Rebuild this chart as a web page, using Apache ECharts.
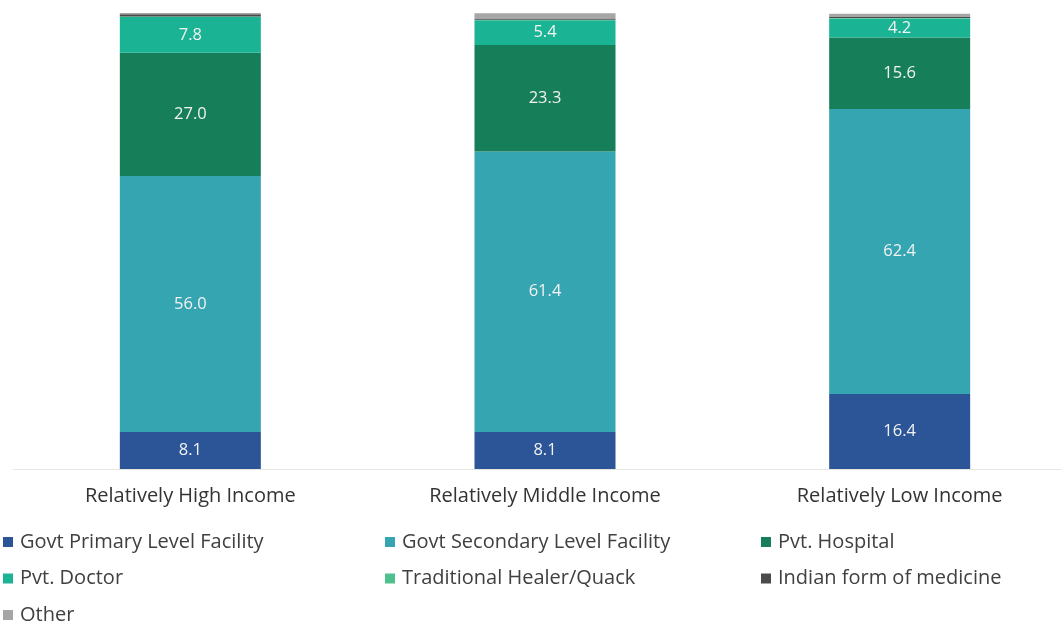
<!DOCTYPE html>
<html>
<head>
<meta charset="utf-8">
<title></title>
<script src="https://cdn.jsdelivr.net/npm/echarts@6/dist/echarts.min.js"></script>
<style>
  html, body { margin: 0; padding: 0; background: #fff; overflow: hidden; }
  #main { width: 1077px; height: 622px; }
</style>
</head>
<body>
<div id="main"></div>
<script type="text/javascript">
var categories = ['Relatively High Income', 'Relatively Middle Income', 'Relatively Low Income'];
var govtPrimary = [8.1, 8.1, 16.4];
var govtSecondary = [56.0, 61.4, 62.4];
var pvtHospital = [27.0, 23.3, 15.6];
var pvtDoctor = [7.8, 5.4, 4.2];
var traditional = [0.1, 0.1, 0.1];
var indianMed = [0.5, 0.3, 0.2];
var other = [0.3, 1.1, 0.7];

var names = ['Govt Primary Level Facility', 'Govt Secondary Level Facility', 'Pvt. Hospital',
  'Pvt. Doctor', 'Traditional Healer/Quack', 'Indian form of medicine', 'Other'];
var colors = ['#2b5597', '#35a5b2', '#167f5a', '#1ab394', '#4dc08e', '#4a4a4a', '#a6a6a6'];
var allData = [govtPrimary, govtSecondary, pvtHospital, pvtDoctor, traditional, indianMed, other];

var myChart = echarts.init(document.getElementById('main'));

var series = [];
for (var i = 0; i < names.length; i++) {
  series.push({
    name: names[i],
    type: 'bar',
    stack: 'total',
    barWidth: 141,
    data: allData[i],
    itemStyle: { color: colors[i] },
    label: {
      show: true,
      position: 'inside',
      color: '#f2f2f2',
      fontFamily: 'Open Sans',
      fontSize: 16.5,
      formatter: function (p) {
        return p.value >= 3 ? p.value.toFixed(1) : '';
      }
    }
  });
}

function legendCol(left, list) {
  return {
    orient: 'vertical',
    left: left,
    top: 531,
    height: 200,
    padding: 0,
    itemWidth: 10,
    itemHeight: 10,
    itemGap: 14.5,
    icon: 'rect',
    textStyle: { fontFamily: 'Open Sans', fontSize: 20, color: '#404040', lineHeight: 22, padding: [0, 0, 0, 2] },
    data: list
  };
}

var option = {
  animation: false,
  grid: { left: 13, right: 0, top: 12, bottom: 153 },
  legend: [
    legendCol(3, [names[0], names[3], names[6]]),
    legendCol(385, [names[1], names[4]]),
    legendCol(761, [names[2], names[5]])
  ],
  xAxis: {
    type: 'category',
    data: categories,
    axisLine: { lineStyle: { color: '#e6e6e0' } },
    axisTick: { show: false },
    axisLabel: { fontFamily: 'Open Sans', fontSize: 20, color: '#333', margin: 17 }
  },
  yAxis: {
    type: 'value',
    min: 0,
    max: 100,
    show: false
  },
  series: series
};
myChart.setOption(option);
</script>
</body>
</html>
